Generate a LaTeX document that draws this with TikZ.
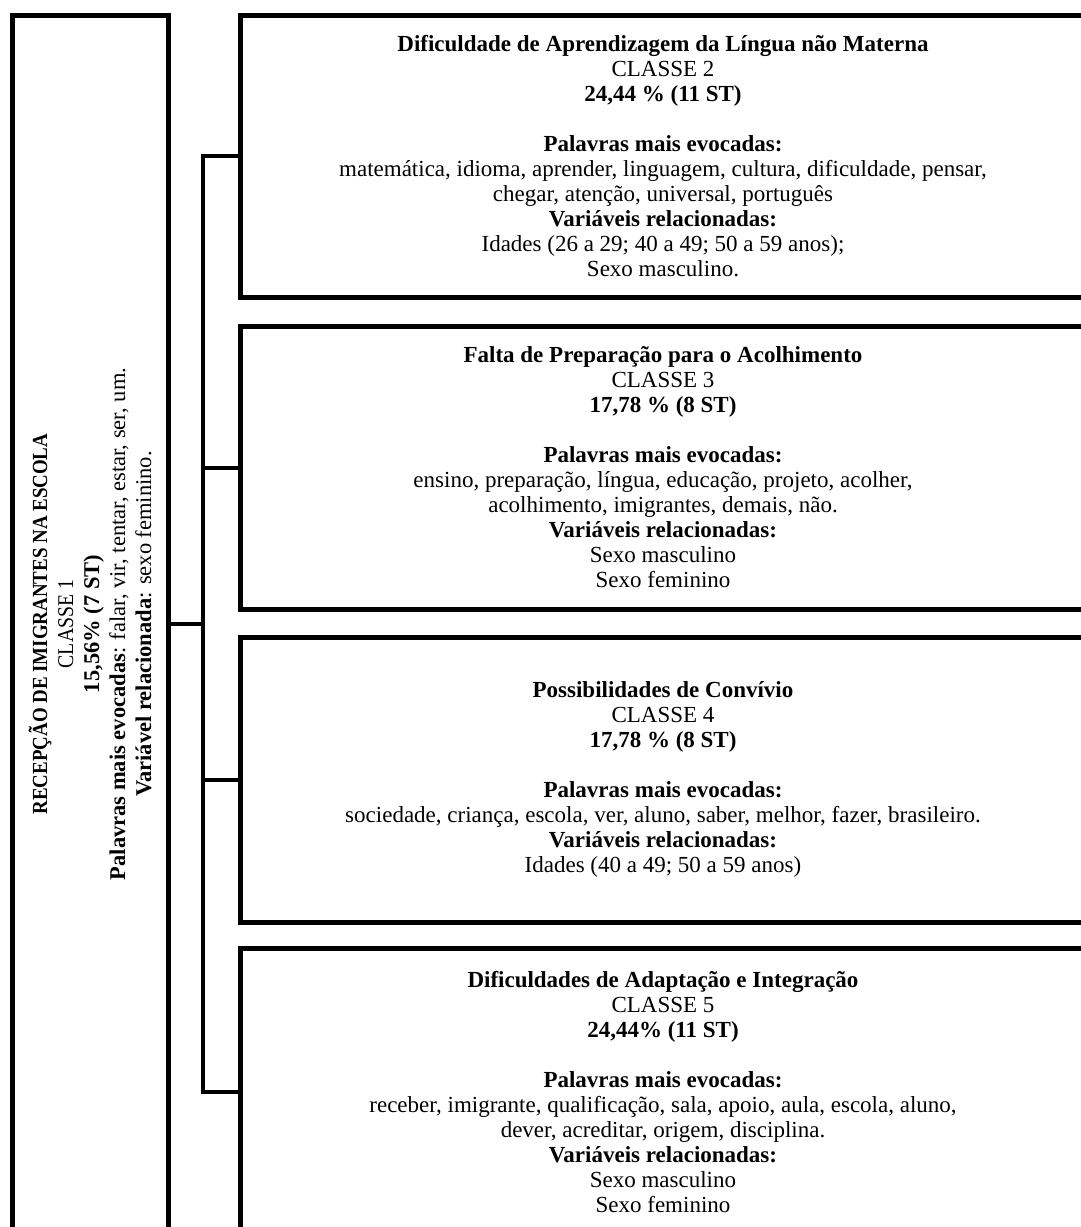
\documentclass[tikz,border=0pt]{standalone}
\usepackage{fontspec}
\setmainfont{Liberation Serif}
\usepackage{graphicx}
\usepackage{tikz}
\usetikzlibrary{positioning}

\begin{document}
\begin{tikzpicture}[x=1pt,y=-1pt,
  classbox/.style={draw,line width=5pt,align=center,minimum width=846pt,
    font=\fontsize{23}{25}\selectfont},
  leftbox/.style={draw,line width=5pt,align=center,rotate=90,
    minimum width=1218pt,minimum height=156pt,font=\fontsize{22.5}{26}\selectfont},
  link/.style={line width=4pt}]
  \clip (0,0) rectangle (1081,1227);
  % Classe 1
  \node[leftbox] (c1) at (90,624) {\scalebox{0.88}[1]{\fontsize{21.5}{26}\selectfont\textbf{RECEPÇÃO DE IMIGRANTES NA ESCOLA}}\\
    \scalebox{0.88}[1]{CLASSE 1}\\ \textbf{15,56\% (7 ST)}\\
    \textbf{Palavras mais evocadas}: falar, vir, tentar, estar, ser, um.\\
    \textbf{Variável relacionada}: sexo feminino.};
  % Classe 2
  \node[classbox,minimum height=282pt] (c2) at (663,156) {\textbf{Dificuldade de Aprendizagem da Língua não Materna}\\
    CLASSE 2\\ \textbf{24,44 \% (11 ST)}\\[25pt]
    \textbf{Palavras mais evocadas:}\\
    matemática, idioma, aprender, linguagem, cultura, dificuldade, pensar,\\
    chegar, atenção, universal, português\\
    \textbf{Variáveis relacionadas:}\\
    Idades (26 a 29; 40 a 49; 50 a 59 anos);\\ Sexo masculino.};
  % Classe 3
  \node[classbox,minimum height=283pt] (c3) at (663,467.5) {\textbf{Falta de Preparação para o Acolhimento}\\
    CLASSE 3\\ \textbf{17,78 \% (8 ST)}\\[25pt]
    \textbf{Palavras mais evocadas:}\\
    ensino, preparação, língua, educação, projeto, acolher,\\
    acolhimento, imigrantes, demais, não.\\
    \textbf{Variáveis relacionadas:}\\
    Sexo masculino\\ Sexo feminino};
  % Classe 4
  \node[classbox,minimum height=285pt] (c4) at (663,779.5) {\textbf{Possibilidades de Convívio}\\
    CLASSE 4\\ \textbf{17,78 \% (8 ST)}\\[25pt]
    \textbf{Palavras mais evocadas:}\\
    sociedade, criança, escola, ver, aluno, saber, melhor, fazer, brasileiro.\\
    \textbf{Variáveis relacionadas:}\\
    Idades (40 a 49; 50 a 59 anos)};
  % Classe 5
  \node[classbox,minimum height=288pt] (c5) at (663,1092) {\textbf{Dificuldades de Adaptação e Integração}\\
    CLASSE 5\\ \textbf{24,44\% (11 ST)}\\[25pt]
    \textbf{Palavras mais evocadas:}\\
    receber, imigrante, qualificação, sala, apoio, aula, escola, aluno,\\
    dever, acreditar, origem, disciplina.\\
    \textbf{Variáveis relacionadas:}\\
    Sexo masculino\\ Sexo feminino};
  % dendrogram links
  \coordinate (bus) at (203,624);
  \draw[link] (c1.south) -- (bus);
  \draw[link] (c2.west) -| (bus) |- (c5.west);
  \draw[link] (c3.west) -- (c3.west -| bus);
  \draw[link] (c4.west) -- (c4.west -| bus);
\end{tikzpicture}
\end{document}
